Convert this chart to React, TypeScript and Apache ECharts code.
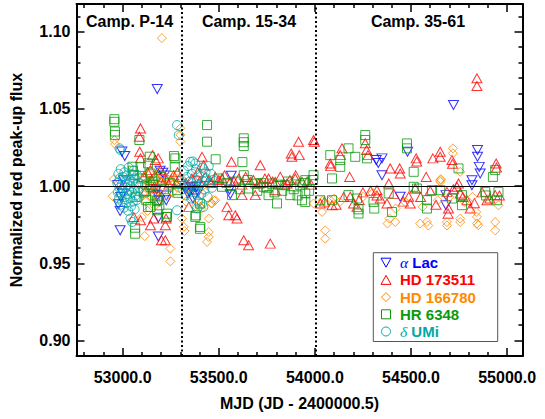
import React, { useEffect, useRef } from 'react';
import * as echarts from 'echarts';

// ---- axis ranges & ticks ----
const X_MIN = 52760;
const X_MAX = 55080;
const Y_MIN = 0.89;
const Y_MAX = 1.118;
const xMajorTicks = [53000, 53500, 54000, 54500, 55000];
const yMajorTicks = [0.9, 0.95, 1.0, 1.05, 1.1];
const xMinorTicks: number[] = [];
for (let i = 528; i <= 550; i++) if (i % 5 !== 0) xMinorTicks.push(i * 100);
const yMinorTicks: number[] = [];
for (let i = 90; i <= 111; i++) if (i % 5 !== 0) yMinorTicks.push(i / 100);

// ---- annotations ----
const campaignBounds = [53310, 54007];
const referenceFlux = 1.0;
const campaignLabels = ['Camp. P-14', 'Camp. 15-34', 'Camp. 35-61'];

// ---- series ----
const seriesNames = ['α Lac', 'HD 173511', 'HD 166780', 'HR 6348', 'δ UMi'];
const seriesColors = ['#0000FF', '#FF0000', '#FF8A00', '#0A9A0A', '#00A8A8'];

const alphaLac: number[][] = [
  [52987, 0.9839], [52987, 0.9714], [52978, 0.9883], [52996, 1.0224], [53011, 1.0195], [53005, 1.0039],
  [53000, 0.9952], [52975, 1.0007], [52990, 0.993],
  [53180, 1.0629], [53186, 0.9674], [53186, 0.9796], [53177, 0.9978], [53182, 0.9941], [53195, 1.01],
  [53209, 1.0087], [53217, 1.0069], [53227, 0.9939], [53227, 0.9909], [53191, 0.9905],
  [53354, 0.9996], [53348, 0.9963], [53363, 0.9974], [53375, 0.9941], [53339, 0.9952], [53384, 0.9996],
  [53366, 0.992], [53393, 0.9963], [53330, 0.9985],
  [53565, 1.0067], [53556, 0.9978], [53560, 0.9948],
  [54721, 1.0526], [54846, 1.0234], [54846, 1.0191], [54855, 1.0125], [54860, 1.0082], [54817, 1.0039],
  [54817, 1.0006], [54482, 1.0223], [54319, 1.0169], [54349, 1.018], [54330, 1.015], [54349, 1.0071],
  [54444, 0.9931], [54682, 0.9942], [54682, 0.9877],
];

const hd173511: number[][] = [
  [53093, 1.0374], [53087, 1.032], [53089, 1.0223], [53093, 1.018], [53156, 1.0201], [53170, 1.0169],
  [53185, 1.018], [53145, 1.0104], [53196, 1.0104], [53093, 0.9779], [53145, 0.9747], [53202, 0.965],
  [53222, 0.965], [53222, 0.9747], [53226, 0.979], [53058, 0.98], [53162, 0.979],
  [53110, 1.006], [53130, 1.009], [53150, 1.004], [53170, 1.007], [53200, 1.003], [53225, 1.005],
  [53250, 1.004], [53265, 1.007], [53280, 1.002], [53120, 0.997], [53160, 0.999], [53240, 1.001],
  [53285, 1.009], [53300, 1.006],
  [53344, 0.9866], [53413, 1.019], [53422, 1.0136], [53566, 1.0158], [53716, 1.0136], [53543, 0.9866],
  [53552, 0.9812], [53586, 0.9812], [53595, 0.979], [53630, 0.965], [53655, 0.9617], [53768, 0.9628],
  [53915, 1.0288], [53877, 1.0212], [53880, 1.019], [53919, 1.0201], [53621, 0.9942], [53690, 0.9942],
  [53794, 0.9974],
  [53517, 1.005], [53560, 1.0028], [53604, 1.005], [53664, 1.0028], [53708, 1.0017], [53759, 1.005],
  [53794, 1.0028], [53855, 1.0017], [53898, 1.005], [53933, 1.0028], [53448, 1.0039], [53482, 1.006],
  [53330, 1.002], [53360, 1.005], [53390, 1.009], [53400, 1.003], [53430, 1.006], [53460, 1.002],
  [53500, 1.004], [53530, 1.007], [53580, 1.003], [53620, 1.001], [53640, 1.006], [53680, 1.004],
  [53720, 1.002], [53740, 1.005], [53780, 1.003], [53820, 1.006], [53840, 1.001], [53870, 1.004],
  [53900, 1.007], [53960, 1.003], [53980, 1.001], [53993, 1.0299], [53997, 1.0288],
  [54843, 1.0699], [54843, 1.0649], [54141, 1.0245], [54132, 1.0201], [54080, 1.0147], [54082, 1.013],
  [54262, 1.0278], [54269, 1.0234], [54276, 1.0201], [54181, 1.006], [54392, 1.0115], [54441, 1.0115],
  [54444, 1.0082], [54527, 1.018], [54530, 1.016], [54579, 1.006], [54614, 1.018], [54652, 1.0223],
  [54652, 1.019], [54713, 1.0169], [54716, 1.0145], [54747, 1.0017], [54384, 1.0017], [54943, 1.0147],
  [54945, 1.012], [54693, 0.9822],
  [54323, 0.9974], [54323, 0.994], [54375, 0.9888], [54488, 0.9931], [54496, 0.9888], [54184, 0.9931],
  [54201, 0.9888], [54219, 0.9866], [54089, 0.9877], [54028, 0.9888], [54695, 0.9855], [54739, 0.9996],
  [54756, 0.9953], [54791, 0.9909], [54808, 0.9855], [54895, 0.9909], [54938, 0.9942], [54522, 0.9985],
  [54687, 0.9963],
  [54050, 0.99], [54110, 0.988], [54150, 0.993], [54230, 0.991], [54250, 0.996], [54290, 0.997],
  [54340, 0.992], [54410, 0.995], [54460, 0.99], [54550, 0.993], [54600, 0.997], [54630, 0.988],
  [54720, 0.998], [54770, 0.993], [54830, 0.989], [54870, 0.996], [54910, 0.992], [54960, 0.994],
];

const hd166780: number[][] = [
  [53204, 1.0959], [52957, 1.0299], [52960, 1.0273], [52955, 1.0046], [52948, 0.9935], [53115, 0.9677],
  [53248, 0.9596], [53248, 0.9513], [53300, 1.0375], [53300, 1.0332], [53300, 1.0289], [53309, 0.979],
  [53318, 0.9736], [53322, 0.971], [53448, 0.979], [53448, 0.9703], [53448, 0.9671], [53439, 0.9639],
  [53465, 0.9888], [53482, 0.9909], [53404, 0.9866],
  [53095, 1.002], [53105, 0.995], [53112, 1.006], [53120, 0.99], [53128, 1.003], [53135, 0.998],
  [53143, 1.008], [53150, 0.993], [53158, 1.001], [53166, 0.987], [53174, 1.005], [53182, 0.997],
  [53190, 1.009], [53198, 0.992], [53206, 1.003], [53214, 0.999], [53222, 1.006], [53230, 0.994],
  [53240, 1.004], [53250, 1.007], [53260, 0.996], [53270, 1.002], [53280, 1.005], [53290, 0.999],
  [53100, 0.98], [53130, 0.984],
  [53330, 0.99], [53350, 0.995], [53380, 0.987], [53395, 0.991], [53410, 0.9855], [53430, 0.996],
  [53460, 0.989], [53473, 0.991],
  [54054, 0.9714], [54054, 0.966], [53993, 0.9888], [54037, 0.9833], [54080, 0.9909], [54388, 0.979],
  [54418, 0.9768], [54378, 0.9758], [54548, 0.9758], [54583, 0.9768], [54590, 0.9745], [54687, 0.9768],
  [54687, 0.9745], [54756, 0.979], [54756, 0.9768], [54843, 0.9801], [54843, 0.9758], [54839, 0.9833],
  [54850, 0.9747], [54938, 0.9768], [54938, 0.9714], [54652, 1.0028], [54655, 1.0045], [54718, 1.0245],
  [54718, 1.0213], [54756, 1.0093], [54652, 1.0039],
  [54040, 0.9906], [54060, 0.9888], [54100, 0.992], [54130, 0.9898], [54250, 0.9931], [54300, 0.9955],
  [54420, 0.9855], [54470, 0.9898], [54560, 0.9866], [54640, 0.9909], [54700, 0.9931], [54780, 0.9898],
  [54820, 0.9931], [54900, 0.9909], [54955, 0.9876],
];

const hr6348: number[][] = [
  [52957, 1.0434], [52957, 1.0417], [52960, 1.0354], [52960, 1.0332], [53087, 1.0299], [53065, 0.9692],
  [53065, 0.9731], [53051, 1.0126], [53054, 1.01], [53060, 1.0072], [53141, 1.0191], [53132, 1.0148],
  [53123, 0.9909], [53132, 0.9865], [53186, 0.9909], [53191, 0.9876], [53231, 0.9822], [53227, 0.98],
  [53267, 1.0195], [53271, 1.0126], [53285, 0.9957], [53159, 1.0007],
  [53093, 1.0125], [53145, 1.0082], [53145, 0.9996], [53145, 0.9866], [53179, 0.9909], [53231, 0.9801],
  [53283, 0.9974], [53274, 1.018], [53067, 0.9931], [53179, 0.9844], [53100, 1.005], [53110, 0.996],
  [53125, 1.001], [53160, 1.003], [53170, 0.994], [53200, 1.006], [53215, 0.998], [53245, 1.002],
  [53439, 1.0396], [53439, 1.0288], [53484, 1.0174], [53402, 0.9724], [53381, 0.9811], [53402, 0.9887],
  [53630, 1.031], [53630, 1.0285], [53630, 1.026], [53623, 1.0156], [53517, 0.9996], [53569, 0.9942],
  [53630, 1.0071], [53655, 0.9985], [53690, 1.0017], [53733, 0.9996], [53759, 0.9942], [53803, 0.9888],
  [53777, 1.0017], [53846, 1.0006], [53872, 0.9942], [53924, 1.0006], [53933, 0.9909], [53950, 1.0039],
  [53378, 0.9801], [53404, 0.9736],
  [53500, 1.005], [53540, 1.002], [53590, 1.003], [53610, 0.998], [53650, 1.004], [53700, 0.997],
  [53720, 1.002], [53750, 0.999], [53790, 0.996], [53810, 1.001], [53830, 0.997], [53860, 1.003],
  [53890, 0.998], [53910, 0.994], [53940, 1.002], [53970, 0.997], [53990, 1.004], [53993, 1.0071],
  [54262, 1.0331], [54262, 1.0299], [54080, 1.0201], [54132, 1.0169], [54175, 1.0245], [54210, 1.019],
  [54271, 1.018], [54132, 1.0125], [54089, 1.005], [54479, 1.0277], [54479, 1.0245], [54514, 1.0093],
  [54747, 1.0115], [54938, 1.0104], [54926, 1.006],
  [53950, 0.9953], [53950, 0.9898], [54028, 0.9909], [54089, 0.9909], [54175, 0.9942], [54219, 0.992],
  [54227, 0.9823], [54227, 0.985], [54305, 0.9898], [54309, 0.9855], [54384, 0.9953], [54401, 0.9833],
  [54531, 0.9985], [54583, 0.9909], [54583, 0.9855], [54609, 0.9974], [54652, 0.9974], [54713, 0.992],
  [54765, 0.9942], [54765, 0.9877], [54886, 0.9963], [54890, 0.994], [54955, 0.9963], [54947, 0.9909],
  [54514, 0.9996],
];

const deltaUMi: number[][] = [
  [52972, 1.002], [52975, 0.996], [52978, 1.008], [52980, 0.992], [52983, 0.999], [52985, 1.005],
  [52988, 0.988], [52990, 1.011], [52993, 0.995], [52996, 1.001], [52998, 0.99], [53001, 1.006],
  [53004, 0.997], [53006, 0.986], [53009, 1.009], [53011, 0.993], [53014, 1.003], [53016, 0.999],
  [53019, 0.989], [53021, 1.007], [53024, 0.995], [53026, 1.001], [53029, 0.984], [53031, 1.012],
  [53034, 0.997], [53036, 1.004], [53039, 0.992], [53041, 1.0], [53044, 0.987], [53046, 1.008],
  [53049, 0.996], [53051, 1.003], [53054, 0.99], [53057, 1.01], [53059, 0.998], [53062, 0.985],
  [53064, 1.005], [53067, 0.994], [53070, 1.001], [53073, 0.991], [53076, 1.007], [53079, 0.997],
  [53082, 1.002], [53085, 0.993],
  [52989, 1.0234], [52984, 1.0245], [53041, 0.979], [53049, 0.9768], [53283, 1.0396], [53292, 1.0331],
  [53283, 0.9844],
  [53305, 1.004], [53312, 0.998], [53318, 1.01], [53323, 1.001], [53329, 0.994], [53334, 1.006],
  [53340, 1.013], [53345, 0.999], [53350, 1.003], [53356, 0.992], [53361, 1.008], [53366, 1.016],
  [53371, 1.0], [53377, 0.996], [53382, 1.011], [53387, 1.004], [53392, 0.99], [53398, 1.007],
  [53403, 1.001], [53409, 0.995], [53414, 1.012], [53420, 1.003], [53425, 0.998], [53431, 1.009],
  [53436, 1.005], [53442, 0.993], [53448, 1.013], [53453, 1.002], [53459, 1.008], [53465, 0.999],
  [53470, 1.004], [53352, 1.0158], [53378, 1.0147], [53387, 0.9855], [53413, 0.9888], [53420, 0.9865],
];

const seriesData = [alphaLac, hd173511, hd166780, hr6348, deltaUMi];
const seriesSymbols = ['triangle', 'triangle', 'diamond', 'rect', 'circle'];
const seriesRotate = [180, 0, 0, 0, 0];
const seriesSizes: number[][] = [[10, 9], [10, 9], [9, 9], [9, 9], [9, 9]];

const FONT = '"Liberation Sans", Arial, Helvetica, sans-serif';
const SERIF = '"Liberation Serif", "DejaVu Serif", serif';

// legend layout (pixels)
const LEG_LEFT = 373.3;
const LEG_TOP = 252.7;
const LEG_W = 124.4;
const LEG_H = 88.8;
const LEG_STEP = 17.2;
const LEG_ROW0 = LEG_TOP + LEG_H / 2 - 2 * LEG_STEP;
const LEG_ICON_X = 386;
const LEG_TEXT_X = 400;

function legendIcon(i: number, cx: number, cy: number, color: string): any {
  const style = { fill: 'none', stroke: color, lineWidth: 1 };
  const kind = seriesSymbols[i];
  if (kind === 'triangle' && seriesRotate[i] === 180) {
    return { type: 'polygon', shape: { points: [[cx - 5, cy - 4.5], [cx + 5, cy - 4.5], [cx, cy + 4.5]] }, style };
  }
  if (kind === 'triangle') {
    return { type: 'polygon', shape: { points: [[cx - 5, cy + 4.5], [cx + 5, cy + 4.5], [cx, cy - 4.5]] }, style };
  }
  if (kind === 'diamond') {
    return { type: 'polygon', shape: { points: [[cx, cy - 4.5], [cx + 4.5, cy], [cx, cy + 4.5], [cx - 4.5, cy]] }, style };
  }
  if (kind === 'rect') {
    return { type: 'rect', shape: { x: cx - 4.5, y: cy - 4.5, width: 9, height: 9 }, style };
  }
  return { type: 'circle', shape: { cx, cy, r: 4.5 }, style };
}

export default function App() {
  const ref = useRef<HTMLDivElement>(null);

  useEffect(() => {
    if (!ref.current) return;
    const chart = echarts.init(ref.current, null, { renderer: 'svg' });

    const axisLineStyle = { color: '#000', width: 2 };
    const tickStyle = { color: '#000', width: 1.5 };

    const makeX = (position: string, values: number[], len: number, labels: boolean, line: boolean) => ({
      type: 'value',
      position,
      min: X_MIN,
      max: X_MAX,
      axisLine: { show: line, onZero: false, lineStyle: axisLineStyle },
      axisTick: { show: true, inside: true, length: len, customValues: values, lineStyle: tickStyle },
      axisLabel: labels
        ? {
            show: true,
            customValues: xMajorTicks,
            formatter: (v: number) => v.toFixed(1),
            margin: 13,
            color: '#000',
            fontSize: 16,
            fontWeight: 'bold',
            fontFamily: FONT,
          }
        : { show: false },
      splitLine: { show: false },
    });

    const makeY = (position: string, values: number[], len: number, labels: boolean, line: boolean) => ({
      type: 'value',
      position,
      min: Y_MIN,
      max: Y_MAX,
      axisLine: { show: line, onZero: false, lineStyle: axisLineStyle },
      axisTick: { show: true, inside: true, length: len, customValues: values, lineStyle: tickStyle },
      axisLabel: labels
        ? {
            show: true,
            customValues: yMajorTicks,
            formatter: (v: number) => v.toFixed(2),
            margin: 6,
            color: '#000',
            fontSize: 16,
            fontWeight: 'bold',
            fontFamily: FONT,
          }
        : { show: false },
      splitLine: { show: false },
    });

    const xMain: any = makeX('bottom', xMajorTicks, 8, true, true);
    xMain.name = 'MJD (JD - 2400000.5)';
    xMain.nameLocation = 'middle';
    xMain.nameGap = 39;
    xMain.nameTextStyle = { color: '#000', fontSize: 16, fontWeight: 'bold', fontFamily: FONT };

    const yMain: any = makeY('left', yMajorTicks, 8, true, true);
    yMain.name = 'Normalized red peak-up flux';
    yMain.nameLocation = 'middle';
    yMain.nameGap = 52;
    yMain.nameTextStyle = { color: '#000', fontSize: 16, fontWeight: 'bold', fontFamily: FONT };

    const richText = (name: string) => {
      const first = name.charAt(0);
      if (first === 'α' || first === 'δ') return `{g|${first}}{b|${name.slice(1)}}`;
      return `{b|${name}}`;
    };

    const scatterSeries = seriesNames.map((name, i) => ({
      name,
      type: 'scatter',
      xAxisIndex: 0,
      yAxisIndex: 0,
      data: seriesData[i],
      symbol: seriesSymbols[i],
      symbolRotate: seriesRotate[i],
      symbolSize: seriesSizes[i],
      itemStyle: { color: 'rgba(0,0,0,0)', borderColor: seriesColors[i], borderWidth: 1 },
      emphasis: { disabled: true },
      z: 3,
    }));

    const lineSeries = {
      name: 'guides',
      type: 'scatter',
      xAxisIndex: 0,
      yAxisIndex: 0,
      data: [],
      silent: true,
      z: 2,
      markLine: {
        silent: true,
        symbol: 'none',
        label: { show: false },
        animation: false,
        data: [
          ...campaignBounds.map((b) => ({
            xAxis: b,
            lineStyle: { color: '#000', type: [2, 2.5], width: 2 },
          })),
          { yAxis: referenceFlux, lineStyle: { color: '#000', type: 'solid', width: 1 } },
        ],
      },
    };

    const campaignCenters = [129.5, 249, 418];

    const legendGraphics: any[] = [
      {
        type: 'rect',
        silent: true,
        z: 10,
        shape: { x: LEG_LEFT, y: LEG_TOP, width: LEG_W, height: LEG_H },
        style: { fill: '#fff', stroke: '#555', lineWidth: 1 },
      },
    ];
    seriesNames.forEach((name, i) => {
      const cy = LEG_ROW0 + i * LEG_STEP;
      const icon = legendIcon(i, LEG_ICON_X, cy, seriesColors[i]);
      icon.silent = true;
      icon.z = 11;
      legendGraphics.push(icon);
      legendGraphics.push({
        type: 'text',
        silent: true,
        z: 11,
        x: LEG_TEXT_X,
        y: cy,
        style: {
          text: richText(name),
          fill: seriesColors[i],
          align: 'left',
          verticalAlign: 'middle',
          rich: {
            g: { fill: seriesColors[i], fontFamily: SERIF, fontStyle: 'italic', fontSize: 15.5, lineHeight: 16 },
            b: { fill: seriesColors[i], fontFamily: FONT, fontWeight: 'bold', fontSize: 15, lineHeight: 16 },
          },
        },
      });
    });

    chart.setOption({
      animation: false,
      backgroundColor: '#fff',
      grid: { left: 76.5, right: 22.5, top: 4, bottom: 63, containLabel: false },
      xAxis: [
        xMain,
        makeX('bottom', xMinorTicks, 4, false, false),
        makeX('top', xMajorTicks, 8, false, true),
        makeX('top', xMinorTicks, 4, false, false),
      ],
      yAxis: [
        yMain,
        makeY('left', yMinorTicks, 4, false, false),
        makeY('right', yMajorTicks, 8, false, true),
        makeY('right', yMinorTicks, 4, false, false),
      ],
      graphic: [
        ...campaignLabels.map((t, i) => ({
          type: 'text',
          x: campaignCenters[i],
          y: 21,
          silent: true,
          style: {
            text: t,
            fill: '#000',
            fontSize: 16,
            fontWeight: 'bold',
            fontFamily: FONT,
            align: 'center',
            verticalAlign: 'middle',
          },
        })),
        ...legendGraphics,
      ],
      series: [lineSeries, ...scatterSeries],
    });

    return () => chart.dispose();
  }, []);

  return (
    <div
      ref={ref}
      style={{ position: 'fixed', left: 0, top: 0, width: 545, height: 419, background: '#fff' }}
    />
  );
}
